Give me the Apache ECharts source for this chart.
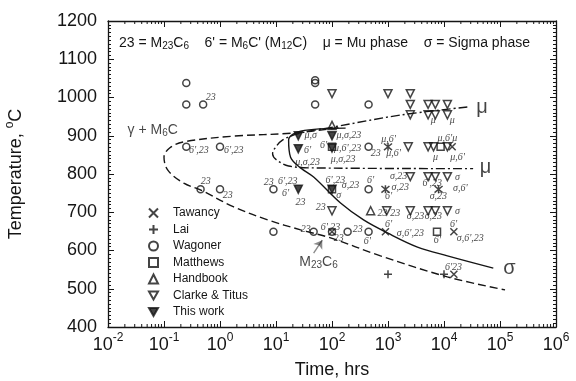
<!DOCTYPE html>
<html>
<head>
<meta charset="utf-8">
<script src="https://cdn.jsdelivr.net/npm/echarts@6/dist/echarts.min.js"></script>
<style>
html, body { margin: 0; padding: 0; background: #fff; }
#chart { width: 576px; height: 381px; }
</style>
</head>
<body>
<div id="chart"></div>
<script>
// axis ticks
var timeDecades = [0.01, 0.1, 1, 10, 100, 1000, 10000, 100000, 1000000];
var tempTicks = [400, 500, 600, 700, 800, 900, 1000, 1100, 1200];

// points: [time hrs, temperature C]
var tawancy = [[100, 649], [900, 649], [15000, 649], [15000, 538], [14000, 871]];
var lai = [[1000, 538], [10000, 538]];
var wagoner = [
    [0.25, 1038], [50, 1038], [50, 1045],
    [0.25, 982], [0.5, 982], [50, 982], [450, 982],
    [0.25, 871], [1, 871], [450, 871],
    [0.45, 760], [1, 760], [9, 760], [450, 760],
    [9, 649], [47, 649], [100, 649], [190, 649], [450, 649]
];
var matthews = [[7500, 649], [8700, 871], [100, 871], [100, 760]];
var handbook = [[100, 927], [490, 704]];
var clarke = [
    [100, 1010], [1000, 1010], [2500, 1010],
    [2500, 982], [5200, 982], [7000, 982], [11500, 982],
    [2500, 955], [5200, 955], [7000, 955], [11500, 955],
    [2300, 871], [5200, 871], [6500, 871], [11500, 871],
    [2500, 793], [5200, 793], [7000, 793], [11500, 793],
    [100, 704], [950, 704], [2500, 704], [5200, 704], [7000, 704], [11500, 704]
];
var thisWork = [[25, 900], [100, 900], [25, 866], [100, 868], [25, 760], [100, 760]];
var overlapped = [[1000, 871], [900, 760], [8000, 760]]; // x and + on top of each other

// curves
var m23c6Curve = [
    [130, 921], [20.7, 907], [1.76, 899], [0.226, 884], [0.126, 868], [0.1, 844],
    [0.117, 810], [0.226, 776], [0.455, 758], [1.76, 714], [7.1, 680], [27.5, 654],
    [94, 633], [735, 586], [11500, 531], [123000, 497]
];
var sigmaCurve = [
    [175, 920], [27.5, 912], [16.8, 889], [18.2, 844], [27.5, 816], [47, 792],
    [142, 724], [366, 680], [977, 646], [3360, 609], [11500, 586], [75900, 554]
];
var muCurve = [
    [26100, 975], [1660, 954], [107, 923], [27.5, 907], [13.2, 889], [9.1, 863],
    [8.7, 852], [10.2, 837], [16.8, 821], [41.7, 816], [33100, 814]
];

// small phase notes next to points: [time, temp, text]
var phaseNotes = [
    [0.685, 1001, "23"], [0.419, 863, "6',23"], [1.76, 863, "6',23"],
    [0.558, 782, "23"], [1.38, 745, "23"], [7.41, 779, "23"], [16.2, 782, "6',23"],
    [14.8, 750, "6'"], [27.5, 727, "23"], [115, 784, "6',23"], [214, 771, "σ,23"],
    [132, 745, "σ"], [490, 784, "6'"], [1550, 794, "σ,23"], [1660, 766, "σ,23"],
    [1020, 742, "6'"], [17400, 792, "σ"], [6170, 776, "6',23"], [19500, 763, "σ,6'"],
    [7940, 742, "σ,23"], [794, 698, "23"], [1350, 698, "23"], [3090, 688, "σ,23"],
    [6460, 688, "σ,23"], [17400, 701, "σ"], [63, 714, "23"], [34, 656, "23"],
    [94, 661, "6',23"], [132, 633, "23"], [288, 656, "23"], [427, 625, "6'"],
    [1020, 667, "6'"], [2510, 646, "σ,6',23"], [7590, 627, "6'"], [14800, 667, "6'"],
    [29500, 633, "σ,6',23"], [14800, 557, "6'23"], [41.7, 902, "μ,σ"],
    [200, 902, "μ,σ,23"], [36.7, 863, "6'"], [36.7, 831, "μ,σ,23"], [70.8, 876, "6'"],
    [190, 868, "μ,6',23"], [158, 837, "μ,σ,23"], [603, 855, "23"], [1020, 891, "μ,6'"],
    [1260, 855, "μ,6'"], [11500, 894, "μ,6'μ"], [7080, 844, "μ"], [17400, 844, "μ,6'"],
    [6460, 941, "μ"], [14100, 941, "μ"]
];
var curveNames = [[47900, 973, "μ"], [55000, 816, "μ"], [148000, 554, "σ"]];
var regionNotes = [[57.5, 570, "{m|M}{s|23}{m|C}{s|6}"], [0.063, 915, "{m|γ + M}{s|6}{m|C}"]];
var arrowLine = [[47, 593], [67, 627]];

var minorTimeTicks = [];
timeDecades.slice(0, -1).forEach(function (d) {
    for (var k = 2; k <= 9; k++) minorTimeTicks.push([d * k, 400]);
});

var INK = '#151515';
var downTri = 'path://M0,0L10,0L5,8.66Z';

function pointSeries(name, data, symbol, size, filled) {
    return {
        name: name,
        type: 'scatter',
        data: data,
        symbol: symbol,
        symbolSize: size,
        z: 4,
        silent: true,
        itemStyle: {
            color: filled ? INK : 'rgba(255,255,255,0)',
            borderColor: INK,
            borderWidth: 1.5
        }
    };
}

function curveSeries(data, dash) {
    return {
        type: 'line',
        data: data,
        smooth: 0.35,
        symbol: 'none',
        silent: true,
        z: 2,
        lineStyle: { color: INK, width: 1.4, type: dash }
    };
}

var chart = echarts.init(document.getElementById('chart'));

var option = {
    animation: false,
    backgroundColor: '#fff',
    grid: { left: 108, right: 20, top: 21, bottom: 54, outerBoundsMode: 'none' },
    legend: {
        orient: 'vertical',
        left: 143,
        top: 202,
        itemWidth: 9,
        itemHeight: 9,
        itemGap: 4.5,
        selectedMode: false,
        formatter: function (n) { return '   ' + n; },
        textStyle: { fontSize: 12, fontFamily: 'Liberation Sans', color: INK },
        data: ['Tawancy', 'Lai', 'Wagoner', 'Matthews', 'Handbook', 'Clarke & Titus', 'This work']
    },
    xAxis: [{
        type: 'log',
        logBase: 10,
        min: timeDecades[0],
        max: timeDecades[timeDecades.length - 1],
        position: 'bottom',
        name: 'Time, hrs',
        nameLocation: 'middle',
        nameGap: 34,
        nameTextStyle: { fontSize: 18, fontFamily: 'Liberation Sans', color: INK },
        axisLine: { show: true, lineStyle: { color: INK, width: 1.3 } },
        axisTick: { show: true, inside: true, length: 6, lineStyle: { color: INK, width: 1 } },
        splitLine: { show: false },
        axisLabel: {
            margin: 5,
            color: INK,
            formatter: function (v) {
                return '{b|10}{s|' + Math.round(Math.log10(v)) + '}';
            },
            rich: {
                b: { fontSize: 18, fontFamily: 'Liberation Sans', color: INK },
                s: { fontSize: 12, fontFamily: 'Liberation Sans', color: INK, padding: [0, 0, 14, 0] }
            }
        }
    }, {
        type: 'log',
        logBase: 10,
        min: timeDecades[0],
        max: timeDecades[timeDecades.length - 1],
        position: 'top',
        axisLine: { show: true, lineStyle: { color: INK, width: 1.3 } },
        axisTick: { show: true, inside: true, length: 6, lineStyle: { color: INK, width: 1 } },
        axisLabel: { show: false },
        splitLine: { show: false }
    }],
    yAxis: [{
        type: 'value',
        min: tempTicks[0],
        max: tempTicks[tempTicks.length - 1],
        interval: 100,
        position: 'left',
        name: 'Temperature, {s|o}C',
        nameLocation: 'middle',
        nameGap: 80,
        nameRotate: 90,
        nameTextStyle: {
            fontSize: 18, fontFamily: 'Liberation Sans', color: INK,
            rich: { s: { fontSize: 12, fontFamily: 'Liberation Sans', color: INK, padding: [0, 0, 12, 0] } }
        },
        axisLine: { show: true, lineStyle: { color: INK, width: 1.3 } },
        axisTick: { show: true, inside: true, length: 6, lineStyle: { color: INK, width: 1 } },
        minorTick: { show: true, splitNumber: 10, length: 3, lineStyle: { color: INK, width: 1 } },
        splitLine: { show: false },
        axisLabel: {
            fontSize: 18, fontFamily: 'Liberation Sans', color: INK, margin: 11,
            formatter: function (v) { return String(v); }
        }
    }, {
        type: 'value',
        min: tempTicks[0],
        max: tempTicks[tempTicks.length - 1],
        interval: 100,
        position: 'right',
        axisLine: { show: true, lineStyle: { color: INK, width: 1.3 } },
        axisTick: { show: true, inside: true, length: 6, lineStyle: { color: INK, width: 1 } },
        minorTick: { show: true, splitNumber: 10, length: 3, lineStyle: { color: INK, width: 1 } },
        splitLine: { show: false },
        axisLabel: { show: false }
    }],
    graphic: [{
        type: 'text',
        left: 119,
        top: 36,
        silent: true,
        style: {
            text: "{n|23 = M}{s|23}{n|C}{s|6}{n|    6' = M}{s|6}{n|C' (M}{s|12}{n|C)    μ = Mu phase    σ = Sigma phase}",
            rich: {
                n: { fontSize: 14, fontFamily: 'Liberation Sans', fill: INK },
                s: { fontSize: 10, fontFamily: 'Liberation Sans', fill: INK, padding: [6, 0, 0, 0] }
            }
        }
    }],
    series: [
        curveSeries(m23c6Curve, [8, 4]),
        curveSeries(sigmaCurve, 'solid'),
        curveSeries(muCurve, [9, 3, 2, 3]),
        {
            type: 'lines',
            coordinateSystem: 'cartesian2d',
            silent: true,
            z: 3,
            symbol: ['none', 'arrow'],
            symbolSize: 8,
            lineStyle: { color: INK, width: 1.4 },
            data: [{ coords: arrowLine }]
        },
        {
            type: 'custom',
            silent: true,
            z: 3,
            data: minorTimeTicks,
            encode: { x: 0, y: 1 },
            renderItem: function (params, api) {
                var b = api.coord([api.value(0), tempTicks[0]]);
                var t = api.coord([api.value(0), tempTicks[tempTicks.length - 1]]);
                var st = { stroke: INK, lineWidth: 1 };
                return {
                    type: 'group',
                    children: [
                        { type: 'line', shape: { x1: b[0], y1: b[1], x2: b[0], y2: b[1] - 3 }, style: st },
                        { type: 'line', shape: { x1: t[0], y1: t[1], x2: t[0], y2: t[1] + 3 }, style: st }
                    ]
                };
            }
        },
        pointSeries('Tawancy', tawancy, 'path://M0,0L10,10M10,0L0,10', 7, false),
        pointSeries('Lai', lai, 'path://M5,0L5,10M0,5L10,5', 8, false),
        pointSeries('Wagoner', wagoner, 'circle', 7, false),
        pointSeries('Matthews', matthews, 'rect', 7, false),
        pointSeries('Handbook', handbook, 'triangle', 8, false),
        pointSeries('Clarke & Titus', clarke, downTri, 8, false),
        pointSeries('This work', thisWork, downTri, 8, true),
        pointSeries('overlap', overlapped, 'path://M0,0L10,10M10,0L0,10M5,-1L5,11', 8, false),
        {
            type: 'scatter',
            data: phaseNotes,
            symbolSize: 0,
            silent: true,
            z: 5,
            label: {
                show: true,
                position: 'inside',
                formatter: function (p) { return p.value[2]; },
                fontFamily: 'Liberation Serif',
                fontStyle: 'italic',
                fontSize: 10,
                color: INK
            }
        },
        {
            type: 'scatter',
            data: curveNames,
            symbolSize: 0,
            silent: true,
            z: 5,
            label: {
                show: true,
                position: 'inside',
                formatter: function (p) { return p.value[2]; },
                fontFamily: 'Liberation Sans',
                fontSize: 20,
                color: INK
            }
        },
        {
            type: 'scatter',
            data: regionNotes,
            symbolSize: 0,
            silent: true,
            z: 5,
            label: {
                show: true,
                position: 'inside',
                formatter: function (p) { return p.value[2]; },
                rich: {
                    m: { fontSize: 14, fontFamily: 'Liberation Sans', color: INK },
                    s: { fontSize: 10, fontFamily: 'Liberation Sans', color: INK, padding: [6, 0, 0, 0] }
                }
            }
        }
    ]
};

chart.setOption(option);
</script>
</body>
</html>
